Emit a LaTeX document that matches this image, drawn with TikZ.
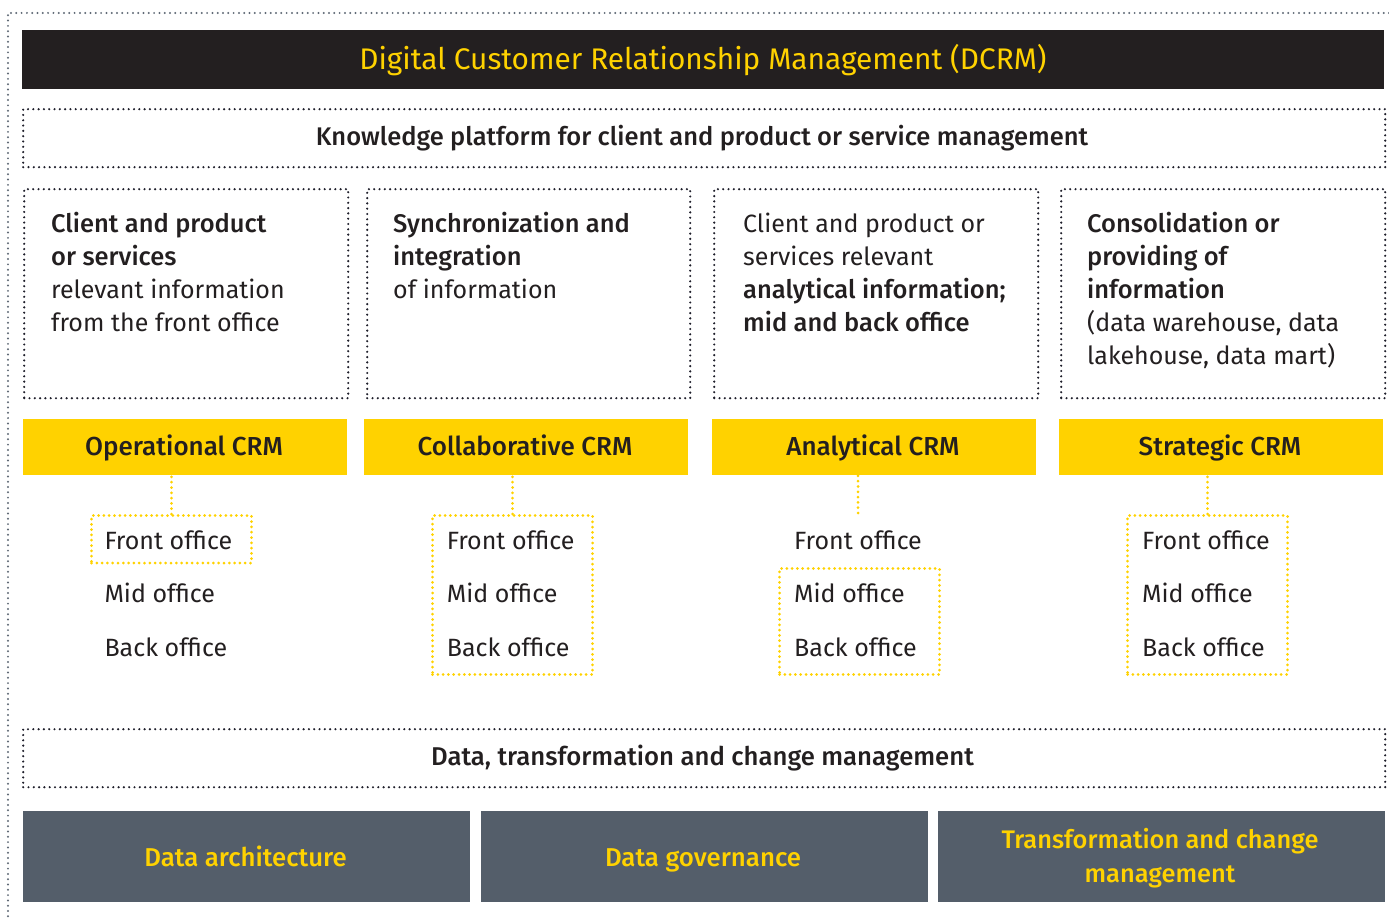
\documentclass[tikz,border=0pt]{standalone}
\usepackage{fontspec}
\setmainfont{Fira Sans}[BoldFont={Fira Sans Medium}]
\newfontfamily\mediumfont{Fira Sans Medium}
\definecolor{ink}{HTML}{231F20}
\definecolor{eyyellow}{HTML}{FFD200}
\definecolor{slate}{HTML}{545E6A}
\definecolor{bordergray}{HTML}{5F6975}
\definecolor{dotink}{HTML}{1E1E2A}
\begin{document}
\begin{tikzpicture}[x=1pt,y=-1pt,
  outerdot/.style={draw=bordergray, line width=2.2pt, line cap=round, dash pattern=on 0pt off 5.3pt},
  dotframe/.style={draw=dotink, line width=2.4pt, line cap=round, dash pattern=on 0pt off 5.3pt, inner sep=0pt, anchor=north west},
  ydot/.style={draw=eyyellow, line width=3pt, line cap=round, dash pattern=on 0pt off 5.3pt},
  yframe/.style={ydot, inner sep=0pt, anchor=north west},
  blackbar/.style={fill=ink, inner sep=0pt, anchor=north west},
  yellowbar/.style={fill=eyyellow, inner sep=0pt, anchor=north west, minimum width=324pt, minimum height=56pt},
  slatebox/.style={fill=slate, inner sep=0pt, anchor=north west, minimum width=447pt, minimum height=91pt},
  bodytxt/.style={anchor=base west, inner sep=0pt, text=ink, font=\fontsize{25}{25}\selectfont},
  boldtxt/.style={bodytxt, font=\fontsize{25.5}{25}\selectfont\bfseries},
  centertxt/.style={anchor=base, inner sep=0pt, text=ink, font=\fontsize{26}{26}\selectfont\bfseries},
  slatetxt/.style={anchor=base, inner sep=0pt, text=eyyellow, font=\fontsize{25.8}{26}\selectfont\mediumfont}
]
\useasboundingbox (0,0) rectangle (1389,920);
% outer border (open at right and bottom)
\coordinate (otr) at (1389,13);
\coordinate (otl) at (8,13);
\coordinate (obl) at (8,920);
\draw[outerdot] (otr) -- (otl) -- (obl);

% title
\node[blackbar, minimum width=1362pt, minimum height=59pt] (title) at (22,30) {};
\node[anchor=base, inner sep=0pt, text=eyyellow, font=\fontsize{29.8}{30}\selectfont] (titletxt) at (703,70) {Digital Customer Relationship Management (DCRM)};

% knowledge platform
\node[dotframe, minimum width=1362pt, minimum height=58pt] (know) at (22,108) {};
\node[centertxt, font=\fontsize{25.5}{26}\selectfont\bfseries] (knowtxt) at (702,145.3) {Knowledge platform for client and product or service management};

% four description boxes
\node[dotframe, minimum width=324pt, minimum height=209pt] (d1) at (23,188) {};
\node[dotframe, minimum width=323pt, minimum height=209pt] (d2) at (366,188) {};
\node[dotframe, minimum width=324pt, minimum height=209pt] (d3) at (713,188) {};
\node[dotframe, minimum width=324pt, minimum height=209pt] (d4) at (1060,188) {};

\node[boldtxt] (d1a) at (51,232.7) {Client and product};
\node[boldtxt] (d1b) at (51,265.7) {or services};
\node[bodytxt] (d1c) at (51,298.7) {relevant information};
\node[bodytxt] (d1d) at (51,331.7) {from the front office};

\node[boldtxt] (d2a) at (393,232.7) {Synchronization and};
\node[boldtxt] (d2b) at (393,265.7) {integration};
\node[bodytxt] (d2c) at (393,298.7) {of information};

\node[bodytxt] (d3a) at (743,232.7) {Client and product or};
\node[bodytxt] (d3b) at (743,265.7) {services relevant};
\node[boldtxt] (d3c) at (743,298.7) {analytical information;};
\node[boldtxt] (d3d) at (743,331.7) {mid and back office};

\node[boldtxt] (d4a) at (1087,232.7) {Consolidation or};
\node[boldtxt] (d4b) at (1087,265.7) {providing of};
\node[boldtxt] (d4c) at (1087,298.7) {information};
\node[bodytxt] (d4d) at (1087,331.7) {(data warehouse, data};
\node[bodytxt] (d4e) at (1087,364.7) {lakehouse, data mart)};

% yellow CRM bars
\node[yellowbar] (b1) at (23,419) {};
\node[yellowbar] (b2) at (364,419) {};
\node[yellowbar] (b3) at (712,419) {};
\node[yellowbar] (b4) at (1059,419) {};
\node[centertxt] (b1t) at (184,455) {Operational CRM};
\node[centertxt] (b2t) at (525,455) {Collaborative CRM};
\node[centertxt] (b3t) at (873,455) {Analytical CRM};
\node[centertxt] (b4t) at (1220,455) {Strategic CRM};

% office frames
\node[yframe, minimum width=160pt, minimum height=47.5pt] (f1) at (90,514) {};
\node[yframe, minimum width=160pt, minimum height=159pt] (f2) at (431,514) {};
\node[yframe, minimum width=160pt, minimum height=106pt] (f3) at (778,567) {};
\node[yframe, minimum width=160pt, minimum height=159pt] (f4) at (1126,514) {};
\coordinate (c3) at (858,513);

\draw[ydot] (f1.north) -- (f1.north |- b1.south);
\draw[ydot] (f2.north) -- (f2.north |- b2.south);
\draw[ydot] (c3) -- (c3 |- b3.south);
\draw[ydot] (f4.north) -- (f4.north |- b4.south);

% office labels
\node[bodytxt] (o1a) at (104.3,549) {Front office};
\node[bodytxt] (o1b) at (104.3,602.5) {Mid office};
\node[bodytxt] (o1c) at (104.3,656) {Back office};
\node[bodytxt] (o2a) at (446.7,549) {Front office};
\node[bodytxt] (o2b) at (446.7,602.5) {Mid office};
\node[bodytxt] (o2c) at (446.7,656) {Back office};
\node[bodytxt] (o3a) at (794,549) {Front office};
\node[bodytxt] (o3b) at (794,602.5) {Mid office};
\node[bodytxt] (o3c) at (794,656) {Back office};
\node[bodytxt] (o4a) at (1142,549) {Front office};
\node[bodytxt] (o4b) at (1142,602.5) {Mid office};
\node[bodytxt] (o4c) at (1142,656) {Back office};

% data management
\node[dotframe, minimum width=1362pt, minimum height=58pt] (dm) at (22,728) {};
\node[centertxt, font=\fontsize{25.7}{26}\selectfont\bfseries] (dmt) at (702.5,765.7) {Data, transformation and change management};

% bottom slate boxes
\node[slatebox] (s1) at (23,811) {};
\node[slatebox] (s2) at (481,811) {};
\node[slatebox] (s3) at (938,811) {};
\node[slatetxt] (s1t) at (245.5,866) {Data architecture};
\node[slatetxt] (s2t) at (703,866) {Data governance};
\node[slatetxt, font=\fontsize{25.4}{26}\selectfont\mediumfont] (s3t) at (1160,848.3) {Transformation and change};
\node[slatetxt, font=\fontsize{25.4}{26}\selectfont\mediumfont] (s3u) at (1160,882.7) {management};
\end{tikzpicture}
\end{document}
